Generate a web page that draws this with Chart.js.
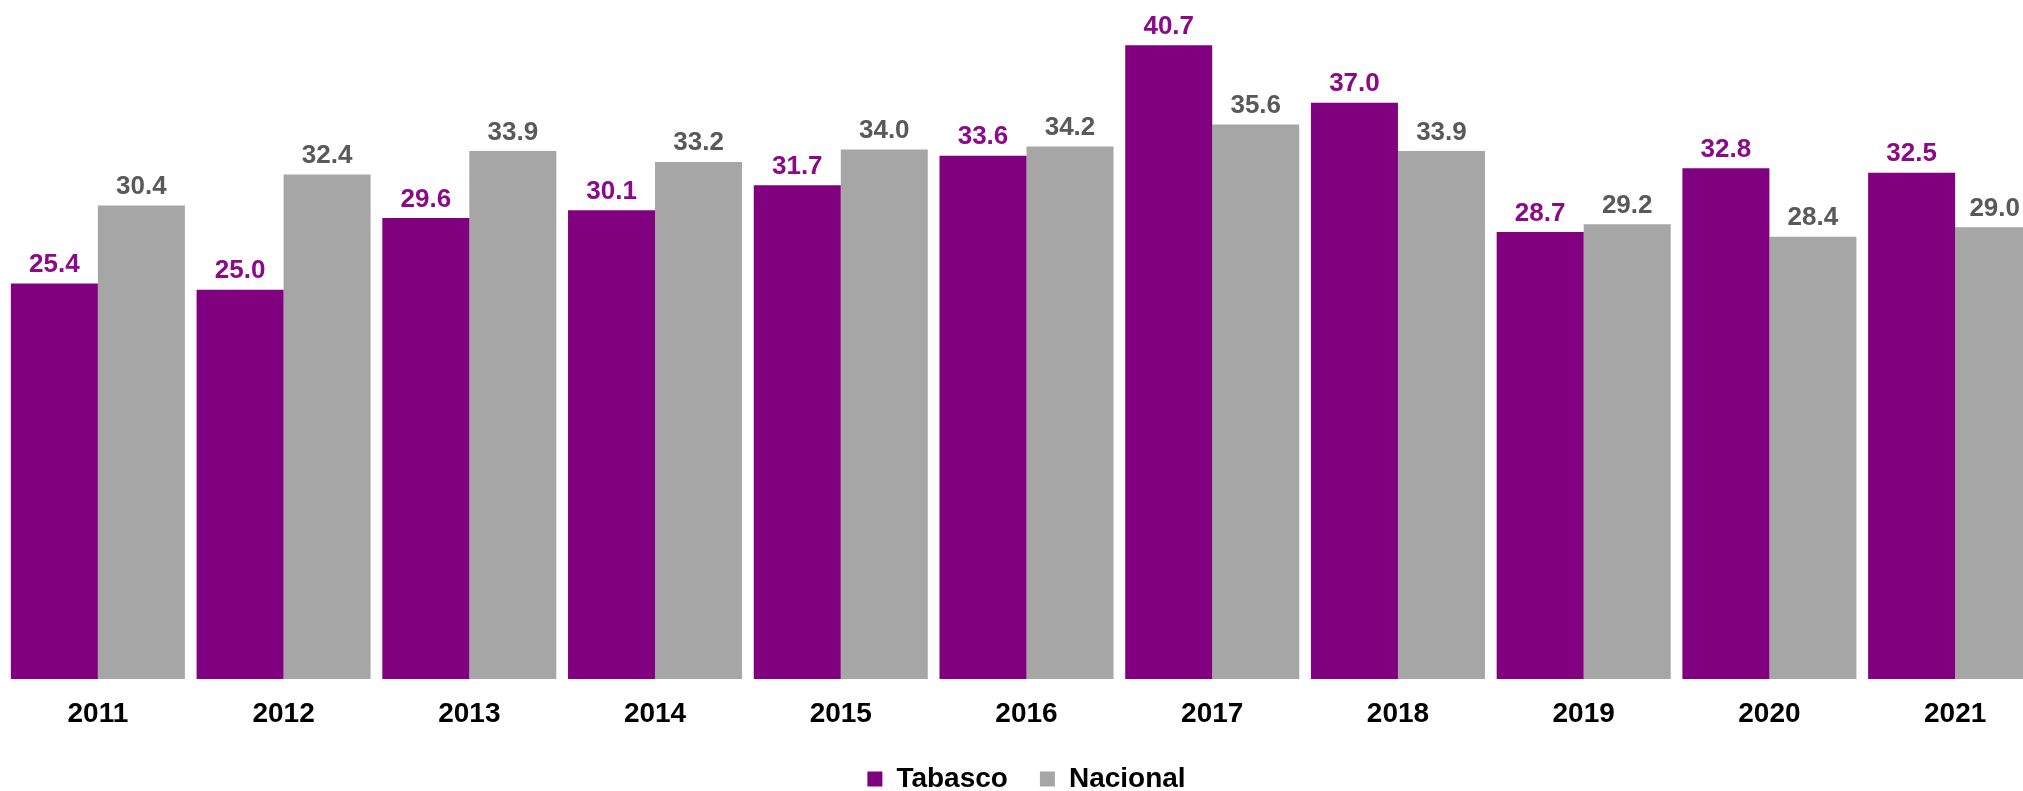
<!DOCTYPE html>
<html>
<head>
<meta charset="utf-8">
<script src="https://cdn.jsdelivr.net/npm/chart.js@4.4.1/dist/chart.umd.min.js"></script>
<style>
  html, body { margin: 0; padding: 0; background: #ffffff; overflow: hidden; width: 2023px; height: 791px; }
  #wrap { position: absolute; left: 0; top: 0; width: 2048px; height: 791px; }
</style>
</head>
<body>
<div id="wrap"><canvas id="c" width="2048" height="791"></canvas></div>
<script>
const categories = ['2011', '2012', '2013', '2014', '2015', '2016', '2017', '2018', '2019', '2020', '2021'];
const tabasco = [25.4, 25.0, 29.6, 30.1, 31.7, 33.6, 40.7, 37.0, 28.7, 32.8, 32.5];
const nacional = [30.4, 32.4, 33.9, 33.2, 34.0, 34.2, 35.6, 33.9, 29.2, 28.4, 29.0];
const seriesNames = ['Tabasco', 'Nacional'];

const FONT = "'Liberation Sans', Arial, sans-serif";
const VISIBLE_WIDTH = 2023;

const valueLabels = {
  id: 'valueLabels',
  afterDatasetsDraw(chart) {
    const ctx = chart.ctx;
    ctx.save();
    ctx.font = 'bold 26px ' + FONT;
    ctx.textAlign = 'center';
    ctx.textBaseline = 'alphabetic';
    chart.data.datasets.forEach((ds, di) => {
      const meta = chart.getDatasetMeta(di);
      ctx.fillStyle = ds.labelColor;
      meta.data.forEach((bar, i) => {
        const txt = ds.data[i].toFixed(1);
        const w = ctx.measureText(txt).width;
        let x = bar.x;
        if (x + w / 2 > VISIBLE_WIDTH - 3) x = VISIBLE_WIDTH - 3 - w / 2;
        ctx.fillText(txt, x, bar.y - 11.5);
      });
    });
    ctx.restore();
  }
};

new Chart(document.getElementById('c'), {
  type: 'bar',
  data: {
    labels: categories,
    datasets: [
      { label: seriesNames[0], data: tabasco, backgroundColor: '#800080', labelColor: '#8a0a8a',
        categoryPercentage: 0.937, barPercentage: 1.0 },
      { label: seriesNames[1], data: nacional, backgroundColor: '#a6a6a6', labelColor: '#595959',
        categoryPercentage: 0.937, barPercentage: 1.0 }
    ]
  },
  options: {
    responsive: false,
    devicePixelRatio: 1,
    animation: false,
    layout: { padding: { left: 5, right: 0, top: 0, bottom: -12 } },
    scales: {
      x: {
        grid: { display: false, drawTicks: false },
        border: { display: false },
        ticks: { color: '#000000', font: { family: FONT, size: 28, weight: 'bold' }, padding: 18, maxRotation: 0 },
        afterFit(scale) { scale.height = 54; }
      },
      y: {
        display: false,
        min: 0,
        max: 43.6
      }
    },
    plugins: {
      legend: {
        position: 'bottom',
        labels: {
          color: '#000000',
          font: { family: FONT, size: 28, weight: 'bold' },
          boxWidth: 15,
          boxHeight: 15,
          padding: 32
        }
      },
      tooltip: { enabled: false },
      title: { display: false }
    }
  },
  plugins: [valueLabels]
});
</script>
</body>
</html>
